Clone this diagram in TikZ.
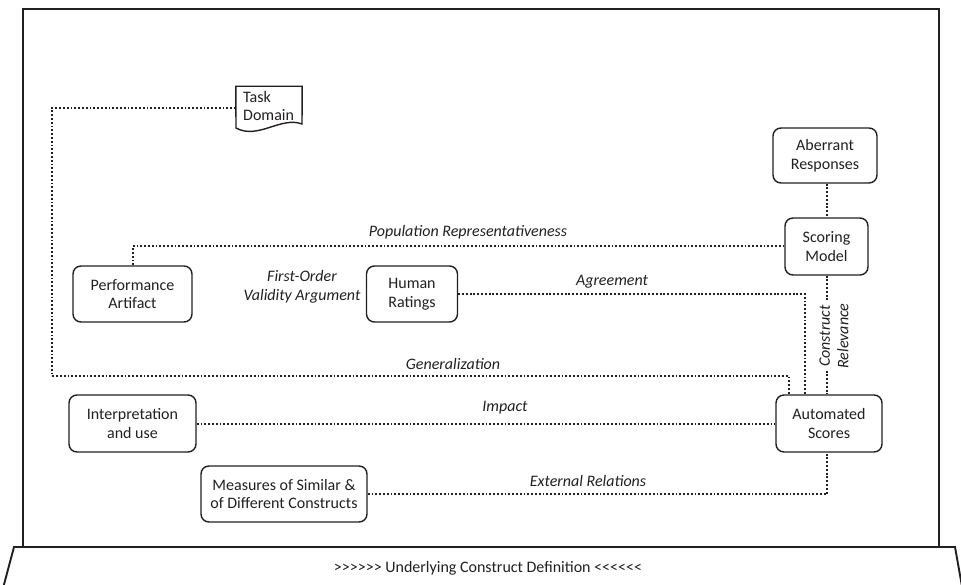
\documentclass[tikz,border=0pt]{standalone}
\usepackage{fontspec}
\setmainfont{Carlito}[Ligatures=TeXOff]
\definecolor{ink}{HTML}{231F20}
\begin{document}
\begin{tikzpicture}[x=1pt,y=-1pt,
  every node/.style={text=ink},
  box/.style={draw=ink, line width=1.4pt, rounded corners=8pt, align=center,
    inner sep=0pt, font=\fontsize{16}{18.5}\selectfont},
  conn/.style={draw=ink, line width=2pt, dash pattern=on 1.9pt off 1.9pt},
  lbl/.style={font=\itshape\fontsize{16}{18.5}\selectfont, inner sep=1pt},
  frameline/.style={draw=ink, line width=1.9pt, line join=miter}]
\useasboundingbox (0,0) rectangle (961,585);

% outer frame and the base it stands on
\draw[frameline] (23,547) -- (23,9) -- (939,9) -- (939,547);
\draw[frameline] (2,592) -- (14,547) -- (955,547) -- (963,592);
\node[font=\fontsize{16}{18.5}\selectfont] (ucd) at (488,568)
  {>>>>>> Underlying Construct Definition <<<<<<};

% task domain (document shape)
\node[minimum width=66pt, minimum height=43pt, inner sep=0pt] (td) at (269,108) {};
\draw[draw=ink, line width=1.4pt, fill=white]
  (td.north west) -- (td.north east) -- (302,124)
  .. controls (281,116) and (258,140) .. (236,128) -- cycle;
\node[align=left, font=\fontsize{16}{18.5}\selectfont, inner sep=0pt, anchor=west]
  (tdtext) at (243,106) {Task\\Domain};

% boxes
\node[box, minimum width=104pt, minimum height=55pt] (ar) at (825,155.5) {Aberrant\\Responses};
\node[box, minimum width=83pt, minimum height=57pt] (sm) at (826.5,246.5) {Scoring\\Model};
\node[box, minimum width=119pt, minimum height=56pt] (pa) at (132.5,294) {Performance\\Artifact};
\node[box, minimum width=91pt, minimum height=56pt] (hr) at (412,294) {Human\\Ratings};
\node[box, minimum width=127pt, minimum height=57pt] (iu) at (132.5,423.5) {Interpretation\\and use};
\node[box, minimum width=106pt, minimum height=57pt] (as) at (829,423.5) {Automated\\Scores};
\node[box, minimum width=166pt, minimum height=56pt] (ms) at (284,494) {Measures of Similar \&\\of Different Constructs};

% connectors
\coordinate (gencorner) at (52,376);
\draw[conn] (td.west) -| (gencorner) -| ([xshift=-40pt]as.north);
\draw[conn] (pa.north) |- (sm.west);
\draw[conn] (hr.east) -| ([xshift=-24pt]as.north);
\draw[conn] (sm.north |- ar.south) -- (sm.north);
\draw[conn] (sm.south) -- (sm.south |- as.north);
\draw[conn] (iu.east) -- (as.west);
\draw[conn] (ms.east) -| ([xshift=-2pt]as.south);

% labels
\node[lbl] (lpop) at (468,232) {Population Representativeness};
\node[lbl] (lagr) at (612,282) {Agreement};
\node[lbl] (lgen) at (453,364) {Generalization};
\node[lbl] (limp) at (505,408) {Impact};
\node[lbl] (lext) at (588,481) {External Relations};
\node[lbl, align=center] (lfo) at (302,287) {First-Order\\Validity Argument};
\node[lbl, rotate=90, fill=white, align=center] (lcr) at (834,336) {Construct\\Relevance};
\end{tikzpicture}
\end{document}
